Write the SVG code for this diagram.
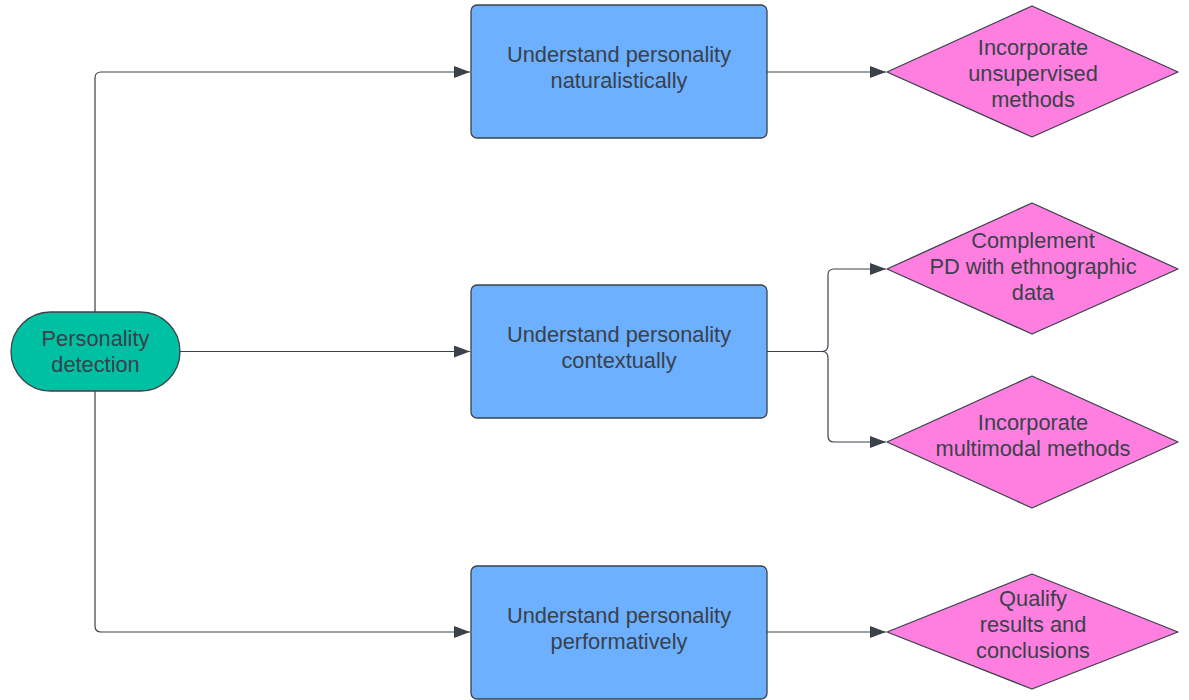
<svg xmlns="http://www.w3.org/2000/svg" width="1189" height="700" viewBox="0 0 1189 700">
<style>
.t{font-family:"Liberation Sans",Arial,sans-serif;font-size:21.8px;fill:#3a414a;text-anchor:middle}
.rect{fill:#6cb0ff;stroke:#3a414a;stroke-width:1.3}
.dia{fill:#ff7fe0;stroke:#3a414a;stroke-width:1.3;stroke-linejoin:round}
.term{fill:#00c0a3;stroke:#3a414a;stroke-width:1.3}
.c{fill:none;stroke:#3a414a;stroke-width:1.2}
</style>
<defs>
<marker id="a" markerWidth="16" markerHeight="12" refX="16" refY="6" orient="auto" markerUnits="userSpaceOnUse">
<path d="M0,0 L16,6 L0,12 z" fill="#3a414a"/>
</marker>
</defs>
<rect width="1189" height="700" fill="#ffffff"/>
<g id="connectors">
<path class="c" d="M95,312 V78 Q95,72 101,72 H470" marker-end="url(#a)"/>
<path class="c" d="M180,351.5 H470" marker-end="url(#a)"/>
<path class="c" d="M95,391 V626 Q95,632 101,632 H470" marker-end="url(#a)"/>
<path class="c" d="M767,72 H886" marker-end="url(#a)"/>
<path class="c" d="M767,351.5 H822 Q828,351.5 828,345 V275 Q828,269 834,269 H886" marker-end="url(#a)"/>
<path class="c" d="M822,351.5 Q828,351.5 828,358 V436 Q828,442 834,442 H886" marker-end="url(#a)"/>
<path class="c" d="M767,632 H886" marker-end="url(#a)"/>
</g>
<g id="n-pd">
<rect class="term" x="11" y="312" width="169" height="79" rx="39.5"/>
<text class="t" x="95.5" y="346">Personality</text>
<text class="t" x="95.5" y="372">detection</text>
</g>
<g id="n-nat">
<rect class="rect" x="471" y="5" width="296" height="133" rx="6"/>
<text class="t" x="619" y="62">Understand personality</text>
<text class="t" x="619" y="88">naturalistically</text>
</g>
<g id="n-ctx">
<rect class="rect" x="471" y="285" width="296" height="133" rx="6"/>
<text class="t" x="619" y="342">Understand personality</text>
<text class="t" x="619" y="368">contextually</text>
</g>
<g id="n-perf">
<rect class="rect" x="471" y="566" width="296" height="133" rx="6"/>
<text class="t" x="619" y="623">Understand personality</text>
<text class="t" x="619" y="649">performatively</text>
</g>
<g id="n-unsup">
<polygon class="dia" points="1032,6 1178,72 1032,137 887,72"/>
<text class="t" x="1033" y="55">Incorporate</text>
<text class="t" x="1033" y="81">unsupervised</text>
<text class="t" x="1033" y="107">methods</text>
</g>
<g id="n-ethno">
<polygon class="dia" points="1032,203 1178,269 1032,334 887,269"/>
<text class="t" x="1033" y="248">Complement</text>
<text class="t" x="1033" y="274">PD with ethnographic</text>
<text class="t" x="1033" y="300">data</text>
</g>
<g id="n-multi">
<polygon class="dia" points="1032,376 1178,442 1032,508 887,442"/>
<text class="t" x="1033" y="430">Incorporate</text>
<text class="t" x="1033" y="456">multimodal methods</text>
</g>
<g id="n-qual">
<polygon class="dia" points="1032,574 1178,632 1032,689 887,632"/>
<text class="t" x="1033" y="606">Qualify</text>
<text class="t" x="1033" y="632">results and</text>
<text class="t" x="1033" y="658">conclusions</text>
</g>
</svg>
